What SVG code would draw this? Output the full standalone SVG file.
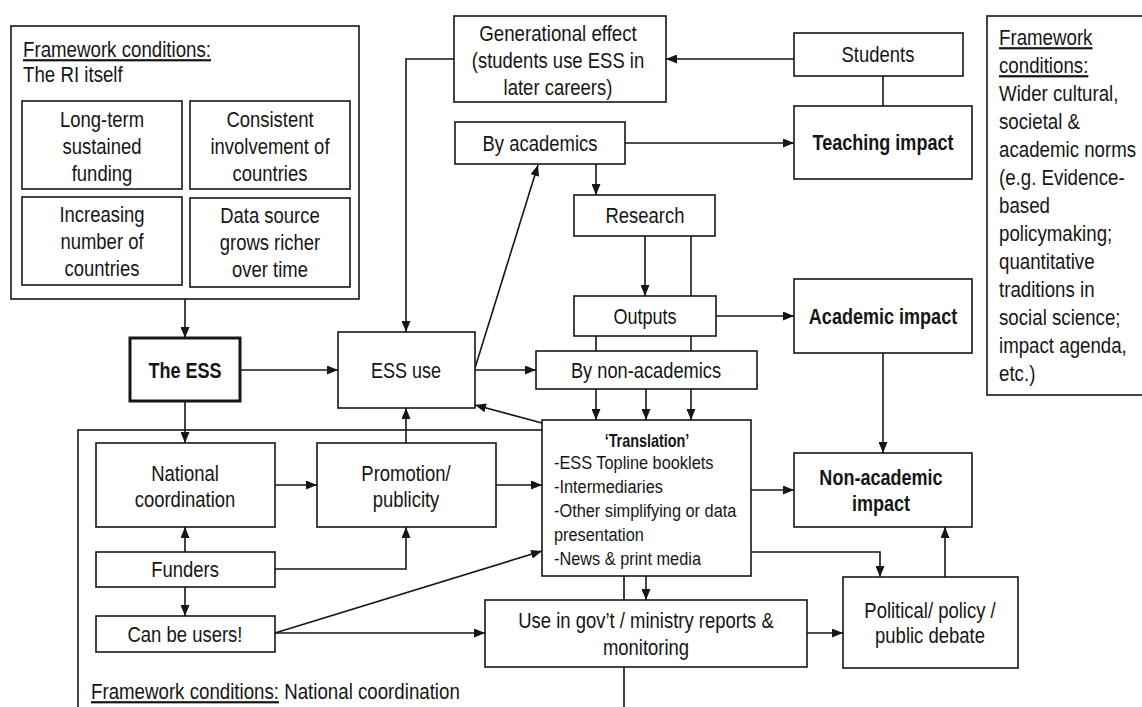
<svg xmlns="http://www.w3.org/2000/svg" width="1142" height="707" viewBox="0 0 1142 707">
<style>
text{font-family:'Liberation Sans',Arial,sans-serif;font-size:22px;fill:#161616}
.m{text-anchor:middle}
.b{font-weight:bold}
.s{font-size:19px}
.u{text-decoration:underline}
.box{fill:#fff;stroke:#161616;stroke-width:1.6}
.frame{fill:none;stroke:#161616;stroke-width:1.6}
.thick{fill:#fff;stroke:#161616;stroke-width:3}
.c path{fill:none;stroke:#161616;stroke-width:1.6}
.c path.a{marker-end:url(#ah)}
</style>
<defs>
<marker id="ah" markerUnits="userSpaceOnUse" markerWidth="11" markerHeight="9" refX="11" refY="4.5" orient="auto">
<path d="M0,0 L11,4.5 L0,9 z" fill="#161616"/>
</marker>
</defs>

<g id="frame-national">
<rect class="frame" x="78" y="430" width="546" height="300"/>
<text transform="translate(91,699) scale(.85,1)"><tspan class="u">Framework conditions:</tspan> National coordination</text>
</g>

<g id="connectors" class="c">
<path class="a" d="M185,299 V338"/>
<path class="a" d="M240,370 H338"/>
<path class="a" d="M185,401 V443"/>
<path class="a" d="M275,485 H317"/>
<path class="a" d="M406,443 V408"/>
<path class="a" d="M496,485 H542"/>
<path class="a" d="M185,552 V527"/>
<path class="a" d="M275,569 H406 V527"/>
<path class="a" d="M185,587 V616"/>
<path class="a" d="M275,633 H485"/>
<path class="a" d="M275,633 L542,551"/>
<path class="a" d="M454,59 H406 V332"/>
<path class="a" d="M794,59 H666"/>
<path d="M883,76 V106"/>
<path class="a" d="M625,143 H794"/>
<path class="a" d="M475,368 L538,165"/>
<path class="a" d="M596,164 V195"/>
<path class="a" d="M645,236 V296"/>
<path d="M691,236 V296 M691,336 V351 M596,336 V351"/>
<path class="a" d="M716,316 H794"/>
<path class="a" d="M475,370 H536"/>
<path class="a" d="M596,389 V420"/>
<path class="a" d="M646,389 V420"/>
<path class="a" d="M691,389 V420"/>
<path class="a" d="M542,423 L475,405"/>
<path class="a" d="M883,353 V453"/>
<path class="a" d="M751,490 H794"/>
<path class="a" d="M751,552 H880 V577"/>
<path class="a" d="M646,576 V600"/>
<path class="a" d="M807,633 H843"/>
<path class="a" d="M945,577 V527"/>
</g>

<g id="frame-ri">
<rect class="box" x="11" y="26" width="348" height="273"/>
<text class="u" transform="translate(23,57) scale(.85,1)">Framework conditions:</text>
<text transform="translate(23,82) scale(.85,1)">The RI itself</text>
</g>
<g id="long-term-funding">
<rect class="box" x="22" y="101" width="160" height="88"/>
<text class="m" transform="translate(102,127) scale(.84,1)">Long-term</text>
<text class="m" transform="translate(102,154) scale(.84,1)">sustained</text>
<text class="m" transform="translate(102,181) scale(.84,1)">funding</text>
</g>
<g id="consistent-involvement">
<rect class="box" x="190" y="101" width="160" height="88"/>
<text class="m" transform="translate(270,127) scale(.84,1)">Consistent</text>
<text class="m" transform="translate(270,154) scale(.84,1)">involvement of</text>
<text class="m" transform="translate(270,181) scale(.84,1)">countries</text>
</g>
<g id="increasing-countries">
<rect class="box" x="22" y="197" width="160" height="88"/>
<text class="m" transform="translate(102,222) scale(.84,1)">Increasing</text>
<text class="m" transform="translate(102,249) scale(.84,1)">number of</text>
<text class="m" transform="translate(102,276) scale(.84,1)">countries</text>
</g>
<g id="data-source">
<rect class="box" x="190" y="198" width="160" height="89"/>
<text class="m" transform="translate(270,223) scale(.84,1)">Data source</text>
<text class="m" transform="translate(270,250) scale(.84,1)">grows richer</text>
<text class="m" transform="translate(270,277) scale(.84,1)">over time</text>
</g>

<g id="the-ess">
<rect class="thick" x="130" y="338" width="110" height="63"/>
<text class="m b" transform="translate(185,378) scale(.82,1)">The ESS</text>
</g>
<g id="ess-use">
<rect class="box" x="338" y="332" width="137" height="76"/>
<text class="m" transform="translate(406,378) scale(.82,1)">ESS use</text>
</g>
<g id="generational-effect">
<rect class="box" x="454" y="16" width="212" height="86"/>
<text class="m" transform="translate(558,41) scale(.85,1)">Generational effect</text>
<text class="m" transform="translate(558,68) scale(.84,1)">(students use ESS in</text>
<text class="m" transform="translate(558,95) scale(.84,1)">later careers)</text>
</g>
<g id="students">
<rect class="box" x="794" y="33" width="169" height="43"/>
<text class="m" transform="translate(878,62) scale(.84,1)">Students</text>
</g>
<g id="by-academics">
<rect class="box" x="455" y="122" width="170" height="42"/>
<text class="m" transform="translate(540,151) scale(.84,1)">By academics</text>
</g>
<g id="teaching-impact">
<rect class="box" x="794" y="106" width="178" height="73"/>
<text class="m b" transform="translate(883,150) scale(.82,1)">Teaching impact</text>
</g>
<g id="research">
<rect class="box" x="574" y="195" width="141" height="41"/>
<text class="m" transform="translate(645,223) scale(.84,1)">Research</text>
</g>
<g id="outputs">
<rect class="box" x="574" y="296" width="142" height="40"/>
<text class="m" transform="translate(645,324) scale(.82,1)">Outputs</text>
</g>
<g id="academic-impact">
<rect class="box" x="794" y="279" width="178" height="74"/>
<text class="m b" transform="translate(883,324) scale(.82,1)">Academic impact</text>
</g>
<g id="by-non-academics">
<rect class="box" x="536" y="351" width="221" height="38"/>
<text class="m" transform="translate(646,378) scale(.83,1)">By non-academics</text>
</g>
<g id="translation">
<rect class="box" x="542" y="420" width="209" height="156"/>
<text class="m b" style="font-size:18px" transform="translate(647,447) scale(.8,1)">‘Translation’</text>
<text class="s" transform="translate(554,469) scale(.86,1)">-ESS Topline booklets</text>
<text class="s" transform="translate(554,493) scale(.86,1)">-Intermediaries</text>
<text class="s" transform="translate(554,517) scale(.86,1)">-Other simplifying or data</text>
<text class="s" transform="translate(554,541) scale(.86,1)">presentation</text>
<text class="s" transform="translate(554,565) scale(.86,1)">-News &amp; print media</text>
</g>
<g id="non-academic-impact">
<rect class="box" x="794" y="453" width="178" height="74"/>
<text class="m b" transform="translate(881,485) scale(.82,1)">Non-academic</text>
<text class="m b" transform="translate(881,511) scale(.82,1)">impact</text>
</g>
<g id="national-coordination">
<rect class="box" x="96" y="443" width="179" height="84"/>
<text class="m" transform="translate(185,481) scale(.84,1)">National</text>
<text class="m" transform="translate(185,507) scale(.84,1)">coordination</text>
</g>
<g id="promotion-publicity">
<rect class="box" x="317" y="443" width="179" height="84"/>
<text class="m" transform="translate(406,481) scale(.84,1)">Promotion/</text>
<text class="m" transform="translate(406,507) scale(.84,1)">publicity</text>
</g>
<g id="funders">
<rect class="box" x="96" y="552" width="179" height="35"/>
<text class="m" transform="translate(185,577) scale(.84,1)">Funders</text>
</g>
<g id="can-be-users">
<rect class="box" x="96" y="616" width="179" height="36"/>
<text class="m" transform="translate(185,642) scale(.84,1)">Can be users!</text>
</g>
<g id="use-in-govt">
<rect class="box" x="485" y="600" width="322" height="67"/>
<text class="m" transform="translate(646,628) scale(.84,1)">Use in gov’t / ministry reports &amp;</text>
<text class="m" transform="translate(646,655) scale(.84,1)">monitoring</text>
</g>
<g id="political-debate">
<rect class="box" x="843" y="577" width="175" height="91"/>
<text class="m" transform="translate(930,618) scale(.84,1)">Political/ policy /</text>
<text class="m" transform="translate(930,643) scale(.84,1)">public debate</text>
</g>
<g id="frame-wider">
<rect class="box" x="987" y="16" width="200" height="379"/>
<text class="u" transform="translate(999,45) scale(.85,1)">Framework</text>
<text class="u" transform="translate(999,73) scale(.85,1)">conditions:</text>
<text transform="translate(999,101) scale(.85,1)">Wider cultural,</text>
<text transform="translate(999,129) scale(.85,1)">societal &amp;</text>
<text transform="translate(999,157) scale(.85,1)">academic norms</text>
<text transform="translate(999,185) scale(.85,1)">(e.g. Evidence-</text>
<text transform="translate(999,213) scale(.85,1)">based</text>
<text transform="translate(999,241) scale(.85,1)">policymaking;</text>
<text transform="translate(999,269) scale(.85,1)">quantitative</text>
<text transform="translate(999,297) scale(.85,1)">traditions in</text>
<text transform="translate(999,325) scale(.85,1)">social science;</text>
<text transform="translate(999,353) scale(.85,1)">impact agenda,</text>
<text transform="translate(999,381) scale(.85,1)">etc.)</text>
</g>
</svg>
